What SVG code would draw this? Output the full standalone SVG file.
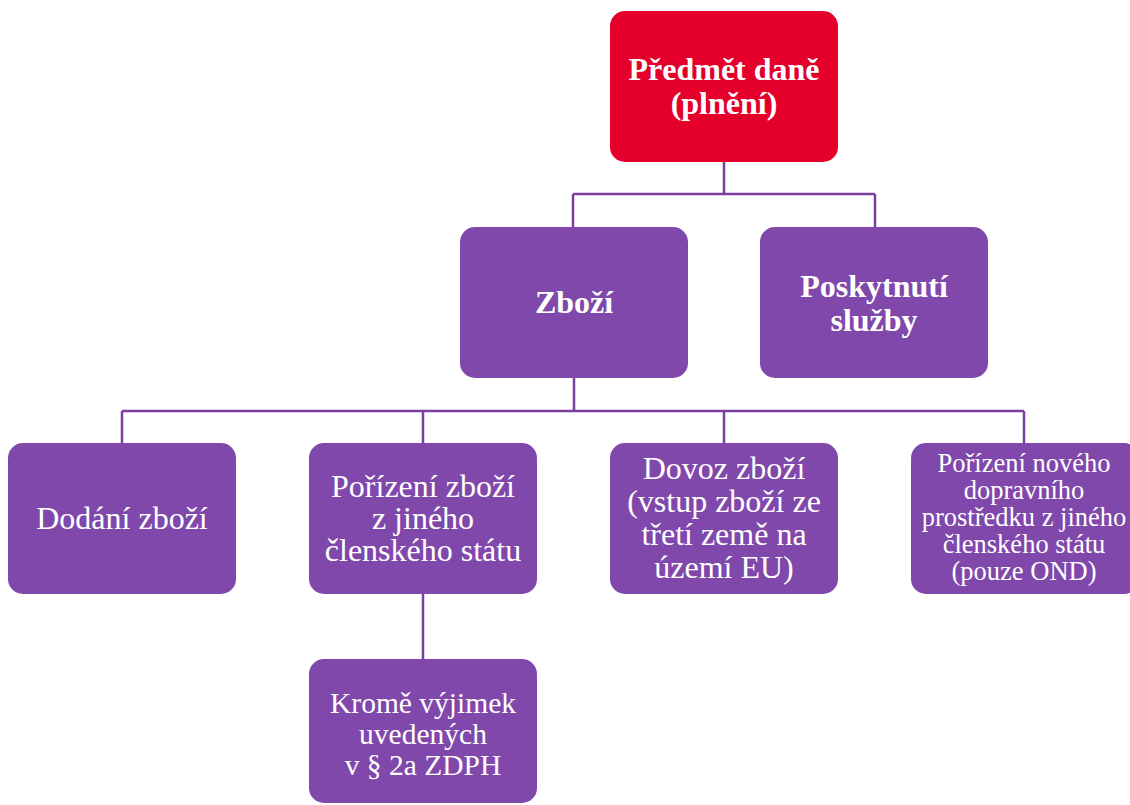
<svg xmlns="http://www.w3.org/2000/svg" width="1130" height="805" viewBox="0 0 1130 805">
<style>
.root{fill:#E4002B}
.box{fill:#8048AB}
.c{fill:none;stroke:#7B3F9E;stroke-width:2.5}
text{font-family:'Liberation Serif',Tinos,'DejaVu Serif',serif;fill:#fff;text-anchor:middle}
.b{font-weight:bold;font-size:32px}
.r{font-size:32px}
.m{font-size:29.5px}
.s{font-size:26.5px}
</style>
<rect width="1130" height="805" fill="#fff"/>
<g id="connectors">
<path class="c" d="M724,162 V194 M573,194 H875 M573,194 V227 M875,194 V227"/>
<path class="c" d="M574,378 V411 M122,411 H1024 M122,411 V443 M423,411 V443 M724,411 V443 M1024,411 V443"/>
<path class="c" d="M423,594 V659"/>
</g>
<g id="n-root">
<rect class="root" x="610" y="11" width="228" height="151" rx="15"/>
<text class="b" x="724" y="80">Předmět daně</text>
<text class="b" x="724" y="114">(plnění)</text>
</g>
<g id="n-zbozi">
<rect class="box" x="460" y="227" width="228" height="151" rx="15"/>
<text class="b" x="574" y="313">Zboží</text>
</g>
<g id="n-sluzby">
<rect class="box" x="760" y="227" width="228" height="151" rx="15"/>
<text class="b" x="874" y="297">Poskytnutí</text>
<text class="b" x="874" y="331">služby</text>
</g>
<g id="n-dodani">
<rect class="box" x="8" y="443" width="228" height="151" rx="15"/>
<text class="r" x="122" y="529">Dodání zboží</text>
</g>
<g id="n-porizeni">
<rect class="box" x="309" y="443" width="228" height="151" rx="15"/>
<text class="r" x="423" y="497">Pořízení zboží</text>
<text class="r" x="423" y="529">z jiného</text>
<text class="r" x="423" y="561">členského státu</text>
</g>
<g id="n-dovoz">
<rect class="box" x="610" y="443" width="228" height="151" rx="15"/>
<text class="r" x="724" y="479">Dovoz zboží</text>
<text class="r" x="724" y="512">(vstup zboží ze</text>
<text class="r" x="724" y="545">třetí země na</text>
<text class="r" x="724" y="578">území EU)</text>
</g>
<g id="n-ond">
<rect class="box" x="911" y="443" width="228" height="151" rx="15"/>
<text class="s" x="1024" y="472">Pořízení nového</text>
<text class="s" x="1024" y="499">dopravního</text>
<text class="s" x="1024" y="526">prostředku z jiného</text>
<text class="s" x="1024" y="553">členského státu</text>
<text class="s" x="1024" y="580">(pouze OND)</text>
</g>
<g id="n-krome">
<rect class="box" x="309" y="659" width="228" height="144" rx="15"/>
<text class="m" x="423" y="713">Kromě výjimek</text>
<text class="m" x="423" y="744">uvedených</text>
<text class="m" x="423" y="775">v § 2a ZDPH</text>
</g>
</svg>
